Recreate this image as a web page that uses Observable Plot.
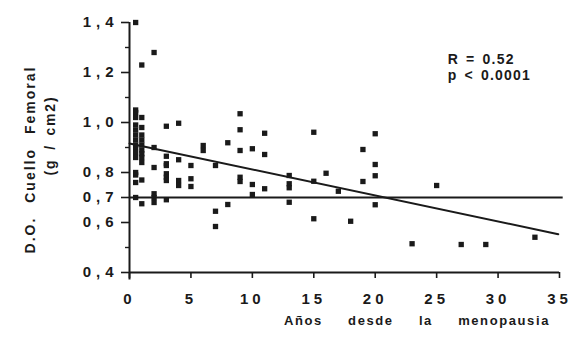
<!DOCTYPE html>
<html>
<head>
<meta charset="utf-8">
<script src="https://cdn.jsdelivr.net/npm/d3@7"></script>
<script src="https://cdn.jsdelivr.net/npm/@observablehq/plot@0.6"></script>
<style>
  html, body { margin: 0; padding: 0; background: #fff; }
  g[aria-label="y-axis tick label"] text { letter-spacing: 5px; font-weight: bold; }
  g[aria-label="x-axis tick label"] text { letter-spacing: 4px; font-weight: bold; }
</style>
</head>
<body>
<div id="chart"></div>
<script>
// Years since menopause (x) and femoral neck BMD g/cm2 (y)
const years = [
  0.5,0.5,0.5,0.5,0.5,0.5,0.5,0.5,0.5,0.5,0.5,0.5,0.5,0.5,0.5,0.5,
  1,1,1,1,1,1,1,1,1,1,1,1,
  2,2,2,2,2,2,
  3,3,3,3,3,3,3,3,
  4,4,4,4,
  5,5,5,
  6,6,
  7,7,7,
  8,8,
  9,9,9,9,9,
  10,10,10,
  11,11,11,
  13,13,13,13,
  15,15,15,
  16,17,18,
  19,19,
  20,20,20,20,
  23,25,27,29,33
];
const density = [
  1.40,1.05,1.04,1.02,0.99,0.97,0.95,0.93,0.91,0.90,0.88,0.86,0.80,0.79,0.76,0.70,
  1.23,1.02,0.98,0.95,0.93,0.91,0.89,0.875,0.86,0.84,0.77,0.675,
  1.28,0.90,0.82,0.715,0.70,0.68,
  0.985,0.865,0.835,0.828,0.795,0.781,0.768,0.691,
  0.997,0.851,0.768,0.748,
  0.828,0.775,0.744,
  0.908,0.888,
  0.828,0.645,0.584,
  0.919,0.672,
  1.035,0.971,0.888,0.781,0.764,
  0.895,0.752,0.712,
  0.957,0.872,0.735,
  0.788,0.755,0.739,0.681,
  0.961,0.765,0.615,
  0.797,0.725,0.605,
  0.892,0.764,
  0.955,0.832,0.787,0.671,
  0.515,0.748,0.512,0.512,0.541
];

const xTicks = [0, 5, 10, 15, 20, 25, 30, 35];
const yTicks = [0.4, 0.6, 0.7, 0.8, 1.0, 1.2, 1.4];
const yMinorTicks = [0.5, 0.9, 1.1, 1.3];
const yTickLabels = ["0,4", "0,6", "0,7", "0,8", "1,0", "1,2", "1,4"];

const regIntercept = 0.916;
const regSlope = -0.0104;
const regRange = [0, 34.9];
const refLevel = 0.7;
const refRange = [0, 35.3];

const xLabel = "Años desde la menopausia";
const yLabel1 = "D.O. Cuello Femoral";
const yLabel2 = "(g / cm2)";
const statsLines = ["R = 0.52", "p < 0.0001"];

const points = years.map((x, i) => ({x, y: density[i]}));
const regLine = regRange.map(x => ({x, y: regIntercept + regSlope * x}));

const ink = "#1a1a1a";
const font = "'Liberation Sans', Arial, Helvetica, sans-serif";

const chart = Plot.plot({
  width: 571,
  height: 351,
  marginLeft: 129,
  marginRight: 12,
  marginTop: 22,
  marginBottom: 79,
  x: {domain: [0, 35]},
  y: {domain: [0.4, 1.4]},
  style: {fontFamily: font, fontWeight: "bold", color: ink, background: "#fff", overflow: "visible"},
  marks: [
    // axis lines
    Plot.ruleX([0], {y1: 0.37, y2: 1.4, stroke: ink, strokeWidth: 2}),
    Plot.ruleY([0.4], {x1: 0, x2: 35, stroke: ink, strokeWidth: 2}),
    // y axis
    Plot.axisY({
      ticks: yTicks,
      tickFormat: (d) => yTickLabels[yTicks.indexOf(d)],
      tickSize: 8,
      tickPadding: 3,
      strokeWidth: 1.6,
      fontSize: 15,
      fontWeight: "bold",
      fill: ink,
      label: null
    }),
    Plot.axisY({
      ticks: yMinorTicks,
      tickFormat: () => "",
      tickSize: 4,
      strokeWidth: 1.4,
      label: null
    }),
    // x axis
    Plot.axisX({
      ticks: xTicks,
      tickFormat: d => String(d),
      tickSize: 6,
      tickPadding: 15,
      strokeWidth: 1.6,
      fontSize: 15,
      fontWeight: "bold",
      fill: ink,
      label: null
    }),
    // reference line and regression
    Plot.ruleY([refLevel], {x1: refRange[0], x2: refRange[1], stroke: ink, strokeWidth: 2}),
    Plot.line(regLine, {x: "x", y: "y", stroke: ink, strokeWidth: 2}),
    // data
    Plot.dot(points, {x: "x", y: "y", symbol: "square", r: 3, fill: ink, stroke: "none"}),
    // annotation
    Plot.text([statsLines.join("\n")], {
      x: 25.9, y: 1.222, text: d => d, textAnchor: "start", lineAnchor: "middle",
      lineHeight: 1.1, fontSize: 14, fontWeight: "bold", fill: ink
    }),
    // axis titles
    Plot.text([xLabel], {
      x: 23.4, y: 0.208, text: d => d, fontSize: 13, fontWeight: "bold", fill: ink
    }),
    Plot.text([yLabel1], {
      x: -8.06, y: 0.852, text: d => d, rotate: -90, fontSize: 14, fontWeight: "bold", fill: ink
    }),
    Plot.text([yLabel2], {
      x: -6.43, y: 0.948, text: d => d, rotate: -90, fontSize: 14, fontWeight: "bold", fill: ink
    })
  ]
});

// text spacing tweaks to match the wide scanned lettering
const spacing = new Map([
  [xLabel, "font-weight:bold;letter-spacing:1.6px;word-spacing:20px"],
  [yLabel1, "font-weight:bold;letter-spacing:2px;word-spacing:8px"],
  [yLabel2, "font-weight:bold;letter-spacing:1.8px;word-spacing:3px"]
]);
d3.select(chart).selectAll("text").each(function() {
  const t = this.textContent;
  if (spacing.has(t)) this.setAttribute("style", spacing.get(t));
  else if (statsLines.some(s => t.includes(s))) {
    this.setAttribute("style", "font-weight:bold;letter-spacing:1.2px;word-spacing:2px");
  }
});

document.getElementById("chart").appendChild(chart);
</script>
</body>
</html>
